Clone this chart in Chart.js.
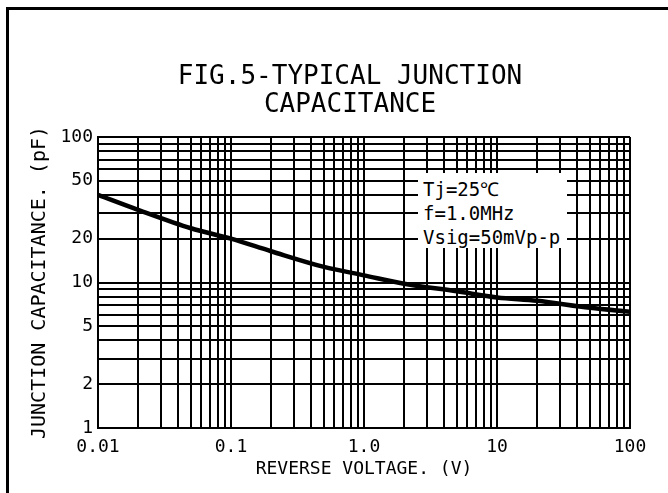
<!DOCTYPE html>
<html>
<head>
<meta charset="utf-8">
<script src="https://cdn.jsdelivr.net/npm/chart.js@4.4.1/dist/chart.umd.min.js"></script>
<style>
html,body{margin:0;padding:0;width:668px;height:493px;overflow:hidden;background:#fff;}
#frame{position:absolute;left:6px;top:7px;width:720px;height:600px;border-left:3px solid #000;border-top:3px solid #000;}
#c{position:absolute;left:0;top:0;}
.title{position:absolute;left:0;width:700px;text-align:center;font-family:"DejaVu Sans Mono",monospace;font-size:26px;line-height:28px;color:#000;white-space:pre;}
#note{position:absolute;left:418px;top:173px;width:149px;height:75px;background:#fff;font-family:"DejaVu Sans Mono",monospace;font-size:19px;line-height:24px;padding:4px 0 0 5px;box-sizing:border-box;color:#000;white-space:pre;}
</style>
</head>
<body>
<div id="frame"></div>
<canvas id="c" width="668" height="493"></canvas>
<div class="title" id="t1" style="top:61px"></div>
<div class="title" id="t2" style="top:89px"></div>
<div id="note"></div>
<script>
// ---- data ----
const voltage      = [0.01, 0.02, 0.05, 0.1, 0.2, 0.5, 1, 2, 5, 10, 20, 50, 100];
const capacitance  = [40, 31.6, 23.6, 20, 16.4, 12.8, 11.2, 9.8, 8.7, 7.9, 7.5, 6.7, 6.3];
const xMajorTicks  = [0.01, 0.1, 1, 10, 100];
const xTickLabels  = ['0.01', '0.1', '1.0', '10', '100'];
const yMajorTicks  = [1, 2, 5, 10, 20, 50, 100];
const yTickLabels  = ['1', '2', '5', '10', '20', '50', '100'];
const titleLines   = ['FIG.5-TYPICAL JUNCTION', 'CAPACITANCE'];
const noteLines    = ['Tj=25\u2103', 'f=1.0MHz', 'Vsig=50mVp-p'];
const xAxisTitle   = 'REVERSE VOLTAGE. (V)';
const yAxisTitle   = 'JUNCTION CAPACITANCE. (pF)';

document.getElementById('t1').textContent = titleLines[0];
document.getElementById('t2').textContent = titleLines[1];
document.getElementById('note').textContent = noteLines.join('\n');

function decadeGrid(minExp, maxExp) {
  const out = [];
  for (let e = minExp; e < maxExp; e++) {
    for (let m = 1; m <= 9; m++) out.push(parseFloat((m * Math.pow(10, e)).toPrecision(6)));
  }
  out.push(parseFloat(Math.pow(10, maxExp).toPrecision(6)));
  return out;
}
const xGrid = decadeGrid(-2, 2);
const yGrid = decadeGrid(0, 2);
function idxOf(arr, v) { return arr.findIndex(a => Math.abs(a - v) / a < 1e-6); }

const FONT = 'DejaVu Sans Mono';

new Chart(document.getElementById('c'), {
  type: 'line',
  data: {
    datasets: [{
      data: voltage.map((v, i) => ({x: v, y: capacitance[i]})),
      borderColor: '#000',
      borderWidth: 4.5,
      pointRadius: 0,
      fill: false,
      cubicInterpolationMode: 'monotone'
    }]
  },
  options: {
    responsive: false,
    animation: false,
    devicePixelRatio: 1,
    layout: {padding: {left: 0, right: 38, top: 137, bottom: 0}},
    plugins: {legend: {display: false}, tooltip: {enabled: false}, title: {display: false}},
    scales: {
      x: {
        type: 'logarithmic',
        min: 0.01, max: 100,
        afterFit(s) { s.height = 65; },
        afterBuildTicks(s) { s.ticks = xGrid.map(v => ({value: v, major: idxOf(xMajorTicks, v) >= 0})); },
        grid: {color: '#000', lineWidth: 2, drawTicks: false},
        border: {color: '#000', width: 2},
        ticks: {
          autoSkip: false, maxRotation: 0, minRotation: 0, padding: 9, color: '#000',
          font: {family: FONT, size: 18},
          callback(v) { const i = idxOf(xMajorTicks, v); return i >= 0 ? xTickLabels[i] : ''; }
        },
        title: {display: true, text: xAxisTitle, color: '#000', font: {family: FONT, size: 18}, padding: {top: 0, bottom: 13}}
      },
      y: {
        type: 'logarithmic',
        min: 1, max: 100,
        afterFit(s) { s.width = 98; },
        afterBuildTicks(s) { s.ticks = yGrid.map(v => ({value: v, major: idxOf(yMajorTicks, v) >= 0})); },
        grid: {color: '#000', lineWidth: 2, drawTicks: false},
        border: {color: '#000', width: 2},
        ticks: {
          autoSkip: false, padding: 5, color: '#000',
          font: {family: FONT, size: 18},
          callback(v) { const i = idxOf(yMajorTicks, v); return i >= 0 ? yTickLabels[i] : ''; }
        },
        title: {display: true, text: yAxisTitle, color: '#000', font: {family: FONT, size: 20}, padding: {top: 28, bottom: 0}}
      }
    }
  }
});
</script>
</body>
</html>
